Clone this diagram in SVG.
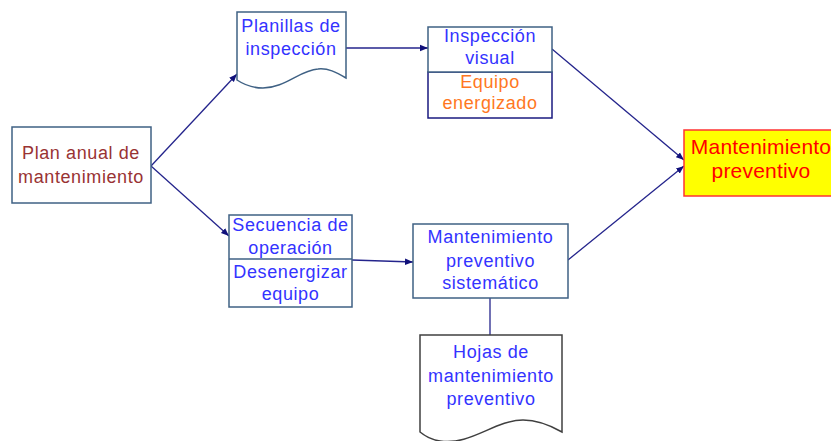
<svg xmlns="http://www.w3.org/2000/svg" width="831" height="441" viewBox="0 0 831 441">
<defs>
<style>
text{font-family:"Liberation Sans",Arial,sans-serif;font-size:18px;letter-spacing:0.6px;text-anchor:middle}
.b{fill:#3333ff}.r{fill:#993333}.o{fill:#ff7722}.red{fill:#ff0000}
.box{fill:#fff;stroke:#3f6184;stroke-width:1.5}
.doc{fill:#fff;stroke:#404040;stroke-width:1.5}
.con{fill:none;stroke:#24248c;stroke-width:1.3}
</style>
<marker id="ah" markerUnits="userSpaceOnUse" markerWidth="10" markerHeight="8" refX="8" refY="4" orient="auto">
<path d="M0,0.8 L8,4 L0,7.2 Z" fill="#10107a"/>
</marker>
</defs>
<rect width="831" height="441" fill="#fff"/>
<g id="connectors">
<path class="con" d="M151,166 L237,74" marker-end="url(#ah)"/>
<path class="con" d="M151,166 L229,236" marker-end="url(#ah)"/>
<path class="con" d="M346,48 L428,48" marker-end="url(#ah)"/>
<path class="con" d="M352,260 L413,262" marker-end="url(#ah)"/>
<path class="con" d="M552,49 L684,160" marker-end="url(#ah)"/>
<path class="con" d="M568,260 L684,166" marker-end="url(#ah)"/>
<path class="con" d="M490,298 L490,335"/>
</g>
<g id="plan">
<rect class="box" x="12" y="127" width="139" height="76"/>
<text class="r" x="81" y="159">Plan anual de</text>
<text class="r" x="81" y="183">mantenimiento</text>
</g>
<g id="planillas">
<path class="doc" d="M237,12 H346 V78 C336,72 328,68 318,69 C300,70 285,88 263,88 C252,88 243,84 237,80 Z" style="stroke:#3f6184"/>
<text class="b" x="291" y="32">Planillas de</text>
<text class="b" x="291" y="55">inspección</text>
</g>
<g id="inspeccion">
<rect x="428" y="72" width="124" height="46" fill="#fff" stroke="#1a1a80" stroke-width="1.5"/>
<rect class="box" x="428" y="27" width="124" height="45"/>
<text class="b" x="490" y="42">Inspección</text>
<text class="b" x="490" y="64">visual</text>
<text class="o" x="490" y="88">Equipo</text>
<text class="o" x="490" y="109">energizado</text>
</g>
<g id="secuencia">
<rect class="box" x="229" y="215" width="123" height="92"/>
<line x1="229" y1="259" x2="352" y2="259" stroke="#3f6184" stroke-width="1.5"/>
<text class="b" x="290.5" y="231">Secuencia de</text>
<text class="b" x="290.5" y="254">operación</text>
<text class="b" x="290.5" y="278">Desenergizar</text>
<text class="b" x="290.5" y="300">equipo</text>
</g>
<g id="mps">
<rect class="box" x="413" y="224" width="155" height="74"/>
<text class="b" x="490.5" y="243">Mantenimiento</text>
<text class="b" x="490.5" y="267">preventivo</text>
<text class="b" x="490.5" y="289">sistemático</text>
</g>
<g id="hojas">
<path class="doc" d="M420,335 H562 V432 C548,424 536,420 523,420 C495,420 470,446 440,441 C432,440 425,436 420,432 Z"/>
<text class="b" x="491" y="358">Hojas de</text>
<text class="b" x="491" y="382">mantenimiento</text>
<text class="b" x="491" y="405">preventivo</text>
</g>
<g id="mantenimiento">
<rect x="684" y="130" width="170" height="66" fill="#ffff00" stroke="#ff3333" stroke-width="1.5"/>
<text class="red" x="761" y="154" style="font-size:21px;letter-spacing:0.2px">Mantenimiento</text>
<text class="red" x="761" y="178" style="font-size:21px;letter-spacing:0.2px">preventivo</text>
</g>
</svg>
